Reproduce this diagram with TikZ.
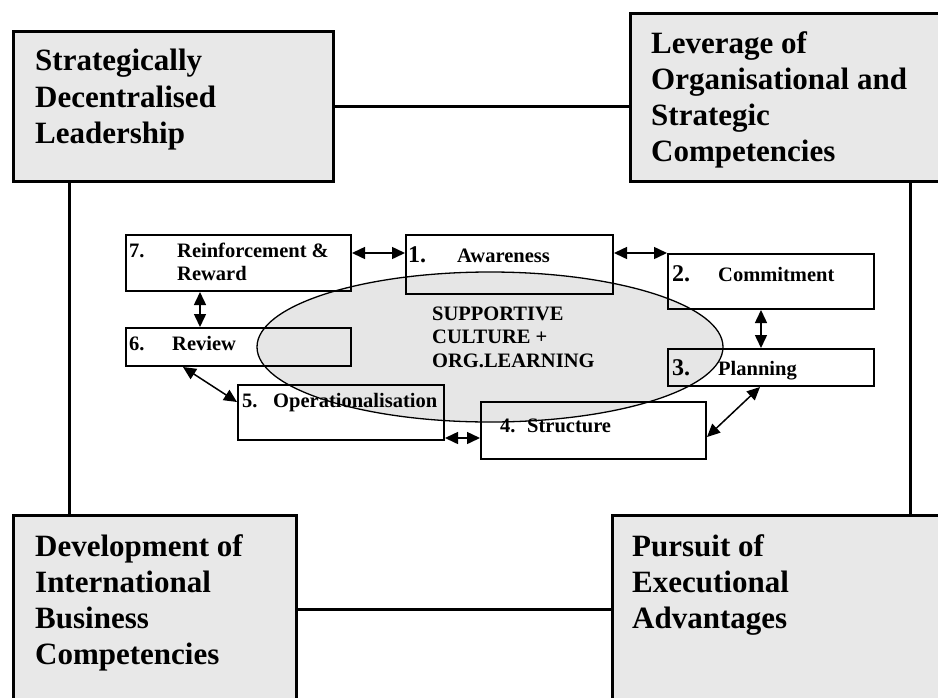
\documentclass[tikz,border=0pt]{standalone}
\usepackage{fontspec}
\setmainfont{Liberation Serif}
\usetikzlibrary{arrows.meta}

\definecolor{panel}{HTML}{E8E8E8}
\definecolor{cloud}{HTML}{E6E6E6}

\begin{document}
\begin{tikzpicture}[x=1pt,y=-1pt,
  bigbox/.style={draw, line width=3.2pt, fill=panel, inner sep=0pt, anchor=north west},
  link/.style={line width=3pt},
  stagebox/.style={draw, line width=2pt, inner sep=0pt, anchor=north west},
  bigtext/.style={anchor=north west, align=left, inner sep=0pt,
    font=\bfseries\fontsize{31}{36.3}\selectfont},
  stagetext/.style={anchor=base west, inner sep=0pt,
    font=\bfseries\fontsize{20.5}{23}\selectfont},
  stagelines/.style={anchor=north west, align=left, inner sep=0pt,
    font=\bfseries\fontsize{20.5}{23.3}\selectfont},
  stagenum/.style={anchor=base west, inner sep=0pt,
    font=\bfseries\fontsize{24}{26}\selectfont},
  flow/.style={{Triangle[length=13pt,width=12pt]}-{Triangle[length=13pt,width=12pt]},
    line width=1.5pt},
]
\useasboundingbox (0,0) rectangle (938,697);

% the four corner capabilities
\node[bigbox, minimum width=320, minimum height=150] (A) at (12,30) {};
\node[bigbox, minimum width=320, minimum height=168] (B) at (629,12) {};
\node[bigbox, minimum width=283, minimum height=200] (C) at (12,514) {};
\node[bigbox, minimum width=334, minimum height=200] (D) at (611,514) {};

\node[bigtext] (At) at (35,49) {Strategically\\Decentralised\\Leadership};
\node[bigtext] (Bt) at (651,31) {Leverage of\\Organisational and\\Strategic\\Competencies};
\node[bigtext] (Ct) at (35,534) {Development of\\International\\Business\\Competencies};
\node[bigtext] (Dt) at (632,534) {Pursuit of\\Executional\\Advantages};

% frame linking the corner boxes
\coordinate (ac) at (69,0);
\coordinate (bd) at (910,0);
\coordinate (cd) at (0,609);
\draw[link] (A.east) -- (A.east -| B.west);
\draw[link] (A.south -| ac) -- (C.north -| ac);
\draw[link] (B.south -| bd) -- (D.north -| bd);
\draw[link] (C.east |- cd) -- (D.west |- cd);

% central culture ellipse
\draw[fill=cloud, line width=1.3pt] (490,347) ellipse [x radius=233, y radius=75];
\node[stagelines, font=\bfseries\fontsize{20.5}{23.5}\selectfont] (E) at (432,306.5)
  {SUPPORTIVE\\CULTURE +\\ORG.LEARNING};

% the seven stages
\node[stagebox, minimum width=225, minimum height=56] (b7) at (125,234) {};
\node[stagebox, minimum width=207, minimum height=59] (b1) at (405,234) {};
\node[stagebox, minimum width=206, minimum height=55] (b2) at (667,253) {};
\node[stagebox, minimum width=206, minimum height=37] (b3) at (667,348) {};
\node[stagebox, minimum width=225, minimum height=57] (b4) at (480,401) {};
\node[stagebox, minimum width=206, minimum height=55] (b5) at (237,384) {};
\node[stagebox, minimum width=225, minimum height=38] (b6) at (125,327) {};

\node[stagetext] (n7) at (129,257) {7.};
\node[stagelines] (t7) at (177,243) {Reinforcement \&\\Reward};
\node[stagenum] (n1) at (408,262) {1.};
\node[stagetext] (t1) at (457,262) {Awareness};
\node[stagenum] (n2) at (672,281) {2.};
\node[stagetext] (t2) at (718,281) {Commitment};
\node[stagenum] (n3) at (672,375) {3.};
\node[stagetext] (t3) at (718,375) {Planning};
\node[stagetext] (n4) at (500,432) {4.};
\node[stagetext] (t4) at (527,432) {Structure};
\node[stagetext] (n5) at (242,407) {5.};
\node[stagetext] (t5) at (273,407) {Operationalisation};
\node[stagetext] (n6) at (129,350) {6.};
\node[stagetext] (t6) at (172,350) {Review};

% two-way links between consecutive stages
\coordinate (r71) at (0,253);
\coordinate (r12) at (0,253);
\coordinate (c76) at (200,0);
\coordinate (c23) at (761,0);
\coordinate (c34) at (760,0);
\coordinate (r34) at (0,437);
\coordinate (r54) at (0,438);
\coordinate (c65) at (183,0);
\coordinate (r65) at (0,402);
\draw[flow] (b7.east |- r71) -- (b1.west |- r71);
\draw[flow] (b1.east |- r12) -- (b2.west |- r12);
\draw[flow] (b7.south -| c76) -- (b6.north -| c76);
\draw[flow] (b2.south -| c23) -- (b3.north -| c23);
\draw[flow] (b3.south -| c34) -- (b4.east |- r34);
\draw[flow] (b5.east |- r54) -- (b4.west |- r54);
\draw[flow] (b6.south -| c65) -- (b5.west |- r65);
\end{tikzpicture}
\end{document}
